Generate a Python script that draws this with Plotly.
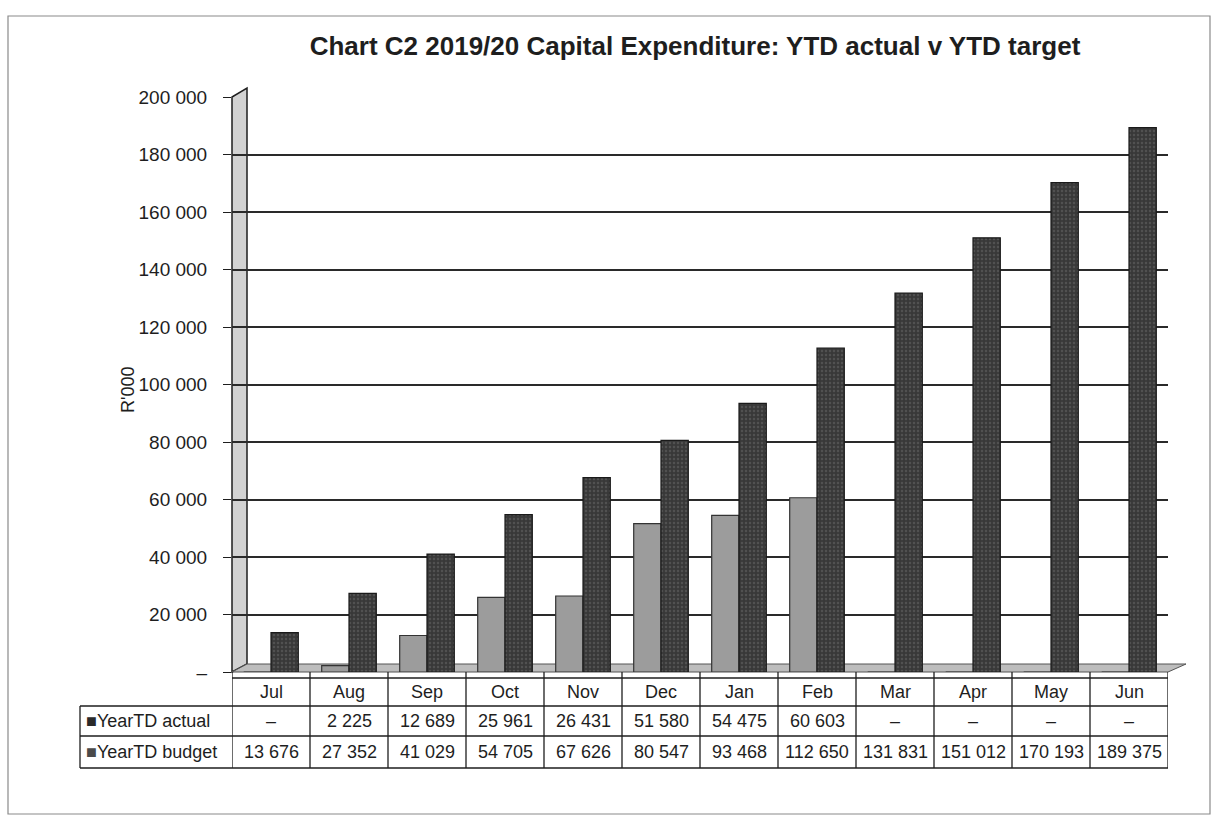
import plotly.graph_objects as go

# Monthly year-to-date capital expenditure, R'000
months = ["Jul", "Aug", "Sep", "Oct", "Nov", "Dec", "Jan", "Feb", "Mar", "Apr", "May", "Jun"]
ytd_actual = [0, 2225, 12689, 25961, 26431, 51580, 54475, 60603, 0, 0, 0, 0]
ytd_budget = [13676, 27352, 41029, 54705, 67626, 80547, 93468, 112650, 131831, 151012, 170193, 189375]
y_ticks = [0, 20000, 40000, 60000, 80000, 100000, 120000, 140000, 160000, 180000, 200000]

FONT = "Liberation Sans, Arial, sans-serif"
INK = "#1e1e1e"

# plot-area geometry in pixels (for converting table positions to paper units)
W, H = 1220, 818
L, R, T, B = 232, 52, 97, 146
PW, PH = W - L - R, H - T - B


def px(xp):
    return (xp - L) / PW


def py(yp):
    return (H - B - yp) / PH


def fmt(v):
    return "–" if v == 0 else f"{v:,}".replace(",", " ")


fig = go.Figure()
fig.add_trace(go.Bar(
    name="YearTD actual", x=months, y=ytd_actual,
    marker=dict(color="#9c9c9c", line=dict(color="#333333", width=1.2)),
))
fig.add_trace(go.Bar(
    name="YearTD budget", x=months, y=ytd_budget,
    marker=dict(color="#3c3c3c", line=dict(color="#1a1a1a", width=1.2),
                pattern=dict(shape=".", fgcolor="#6a6a6a", bgcolor="#383838", size=4, solidity=0.3)),
))

shapes = []
# shaded side wall and floor
shapes.append(dict(type="path", xref="paper", yref="paper", layer="below",
                   path=f"M {px(232)},{py(672)} L {px(247)},{py(664)} L {px(247)},{py(88)} L {px(232)},{py(97)} Z",
                   fillcolor="#d2d2d2", line=dict(color=INK, width=1.5)))
shapes.append(dict(type="path", xref="paper", yref="paper", layer="below",
                   path=f"M {px(232)},{py(672)} L {px(247)},{py(664)} L {px(1186)},{py(664)} L {px(1168)},{py(672)} Z",
                   fillcolor="#bdbdbd", line=dict(color="#555555", width=1)))

# data table grid below the plot
row_lines = [678, 706, 736, 768]
for i, yl in enumerate(row_lines):
    x0 = 232 if i == 0 else 80
    shapes.append(dict(type="line", xref="paper", yref="paper",
                       x0=px(x0), x1=px(1168), y0=py(yl), y1=py(yl),
                       line=dict(color=INK, width=1.3)))
for k in range(len(months) + 1):
    shapes.append(dict(type="line", xref="x", yref="paper",
                       x0=k - 0.5, x1=k - 0.5, y0=py(672), y1=py(768),
                       line=dict(color=INK, width=1.3)))
shapes.append(dict(type="line", xref="paper", yref="paper",
                   x0=px(80), x1=px(80), y0=py(706), y1=py(768),
                   line=dict(color=INK, width=1.3)))
# outer frame
shapes.append(dict(type="rect", xref="paper", yref="paper",
                   x0=px(8), x1=px(1210), y0=py(16), y1=py(814),
                   line=dict(color="#8a8a8a", width=1.2)))

annotations = []
cell_font = dict(family=FONT, size=18, color=INK)
for i, m in enumerate(months):
    for yrow, txt in ((692, m), (721, fmt(ytd_actual[i])), (752, fmt(ytd_budget[i]))):
        annotations.append(dict(x=i, xref="x", y=py(yrow), yref="paper", text=txt,
                                xanchor="center", yanchor="middle",
                                showarrow=False, font=cell_font))
annotations.append(dict(x=px(84), xref="paper", y=py(721), yref="paper",
                        xanchor="left", yanchor="middle",
                        text="<span style='color:#2a2a2a'>■</span>YearTD actual",
                        showarrow=False, font=cell_font))
annotations.append(dict(x=px(84), xref="paper", y=py(752), yref="paper",
                        xanchor="left", yanchor="middle",
                        text="<span style='color:#4a4a4a'>■</span>YearTD budget",
                        showarrow=False, font=cell_font))
# axis title
annotations.append(dict(x=px(128), xref="paper", y=py(390), yref="paper", text="R'000",
                        xanchor="center", yanchor="middle",
                        textangle=-90, showarrow=False, font=dict(family=FONT, size=18, color=INK)))

fig.update_layout(
    width=W, height=H,
    margin=dict(l=L, r=R, t=T, b=B),
    paper_bgcolor="white", plot_bgcolor="white",
    barmode="group", bargap=0.3, bargroupgap=0.0,
    showlegend=False,
    title=dict(text="<b>Chart C2 2019/20 Capital Expenditure: YTD actual v YTD target</b>",
               xref="container", x=695 / W, xanchor="center",
               yref="container", y=1 - 46 / H, yanchor="middle",
               font=dict(family=FONT, size=26, color=INK)),
    xaxis=dict(type="category", range=[-0.5, 11.5], showticklabels=False,
               showgrid=False, zeroline=False, showline=False, fixedrange=True),
    yaxis=dict(range=[0, 200000], tickvals=y_ticks, ticktext=[fmt(v) for v in y_ticks],
               showgrid=True, gridcolor="#2a2a2a", gridwidth=1.5,
               zeroline=False, showline=False,
               ticks="outside", ticklen=8, tickcolor=INK, tickwidth=1.3,
               ticklabelstandoff=12,
               tickfont=dict(family=FONT, size=19, color=INK)),
    shapes=shapes, annotations=annotations,
)

fig.write_html("out.html")
